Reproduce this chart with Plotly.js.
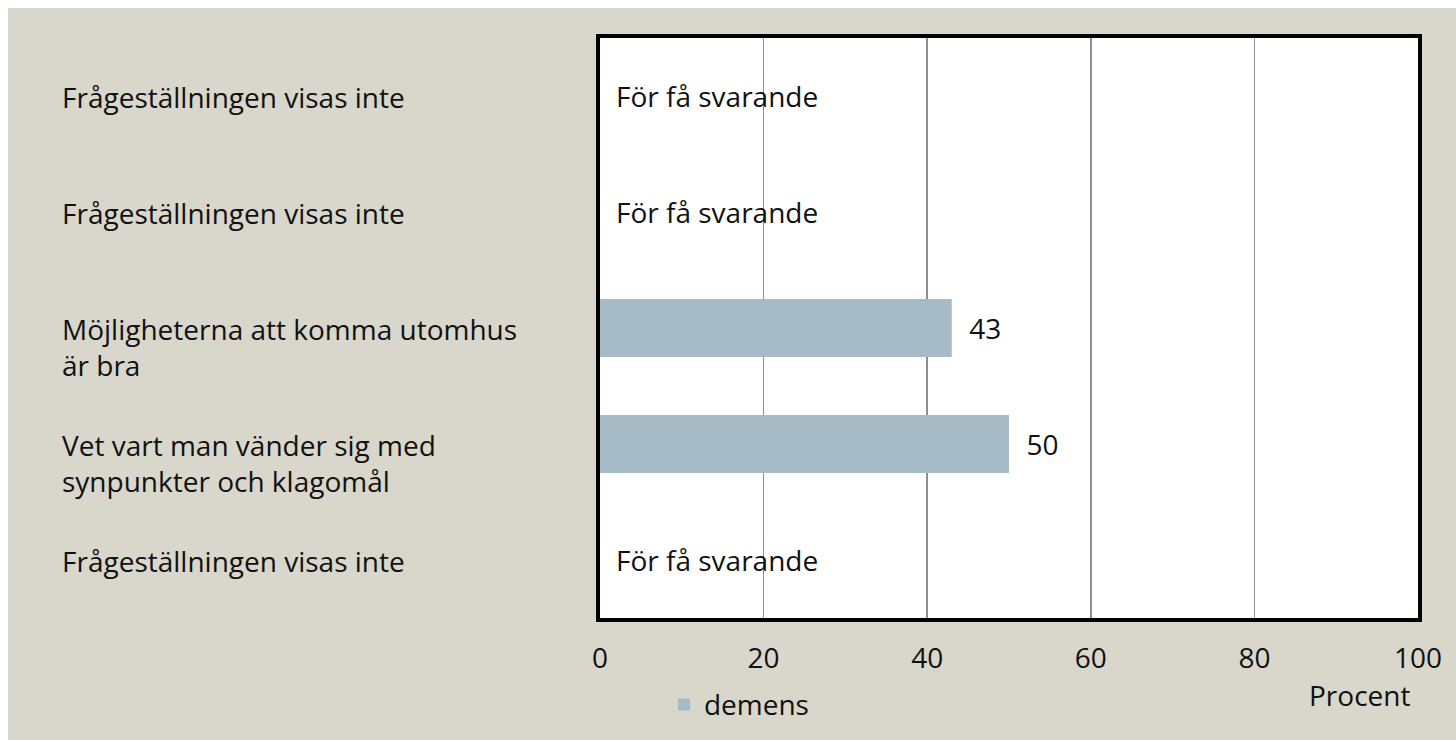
<!DOCTYPE html>
<html>
<head>
<meta charset="utf-8">
<script src="https://cdn.plot.ly/plotly-3.0.1.min.js"></script>
<style>
html,body{margin:0;padding:0;background:#ffffff;}
#chart{position:absolute;left:8px;top:8px;width:1448px;height:732px;}
</style>
</head>
<body>
<div id="chart"></div>
<script>
// Data (top to bottom)
const categories = [
  "Frågeställningen visas inte",
  "Frågeställningen visas inte",
  "Möjligheterna att komma utomhus<br>är bra",
  "Vet vart man vänder sig med<br>synpunkter och klagomål",
  "Frågeställningen visas inte"
];
const values = [null, null, 43, 50, null];
const noteText = "För få svarande";
const seriesName = "demens";
const xTicks = [0, 20, 40, 60, 80, 100];
const xAxisTitle = "Procent";

const positions = categories.map((c, i) => i);
const font = "'Open Sans', 'DejaVu Sans', sans-serif";
const fs = 28;
const txtColor = "#111111";

const trace = {
  type: "bar",
  orientation: "h",
  name: seriesName,
  y: positions,
  x: values,
  width: 0.5,
  marker: {color: "#a7bbc6"},
  text: values.map(v => v === null ? "" : "  " + v),
  textposition: "outside",
  textfont: {family: font, size: fs, color: txtColor},
  cliponaxis: false,
  hoverinfo: "skip"
};

const annotations = [];
categories.forEach((c, i) => {
  annotations.push({
    xref: "paper", yref: "y", x: -0.660, y: i,
    xanchor: "left", yanchor: "top", align: "left",
    yshift: 20,
    text: c, showarrow: false,
    font: {family: font, size: fs, color: txtColor}
  });
  if (values[i] === null) {
    annotations.push({
      xref: "x", yref: "y", x: 0, y: i,
      xanchor: "left", yanchor: "middle", xshift: 14,
      text: noteText, showarrow: false,
      font: {family: font, size: fs, color: txtColor}
    });
  }
});
annotations.push({
  xref: "paper", yref: "paper", x: 0.993, y: -0.133,
  xanchor: "right", yanchor: "middle",
  text: xAxisTitle, showarrow: false,
  font: {family: font, size: fs, color: txtColor}
});

const layout = {
  width: 1448, height: 732,
  paper_bgcolor: "#d9d7cb",
  plot_bgcolor: "#ffffff",
  margin: {l: 592, r: 38, t: 30, b: 122, autoexpand: false},
  showlegend: true,
  legend: {
    orientation: "h", xref: "container", yref: "container",
    x: 0.453, y: 0.048, xanchor: "left", yanchor: "middle",
    font: {family: font, size: fs, color: txtColor},
    bgcolor: "rgba(0,0,0,0)", itemwidth: 30
  },
  xaxis: {
    range: [0, 100], tickvals: xTicks, ticktext: xTicks.map(String),
    showgrid: true, gridcolor: "#8f8f8f", gridwidth: 1.5,
    zeroline: false,
    showline: true, linecolor: "#000000", linewidth: 4, mirror: true,
    ticks: "", ticklen: 0, ticklabelstandoff: 12,
    tickfont: {family: font, size: fs, color: txtColor},
    automargin: false,
    fixedrange: true
  },
  yaxis: {
    range: [categories.length - 0.5, -0.5],
    tickvals: positions, showticklabels: false,
    showgrid: false, zeroline: false,
    showline: true, linecolor: "#000000", linewidth: 4, mirror: true,
    ticks: "", automargin: false, fixedrange: true
  },
  annotations: annotations,
  font: {family: font, color: txtColor}
};

Plotly.newPlot("chart", [trace], layout, {displayModeBar: false, staticPlot: true});
</script>
</body>
</html>
